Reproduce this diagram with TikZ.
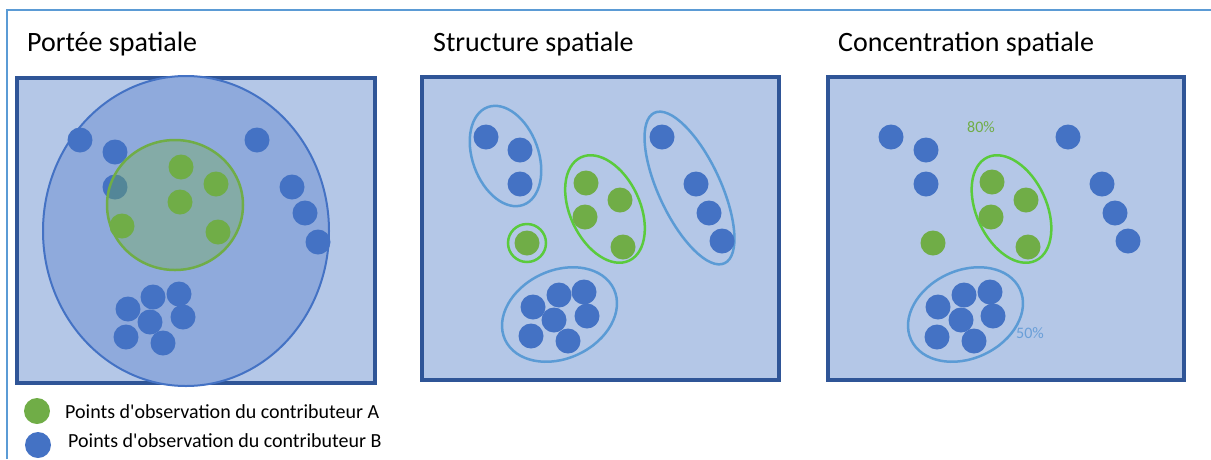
\documentclass[tikz,border=0pt]{standalone}
\usepackage{fontspec}
\setmainfont{Carlito}
\newfontfamily\legfont{Carlito}
\definecolor{panelfill}{HTML}{B4C7E7}
\definecolor{panelline}{HTML}{2F5597}
\definecolor{ptblue}{HTML}{4472C4}
\definecolor{ptgreen}{HTML}{70AD47}
\definecolor{ringgreen}{HTML}{5ACB3C}
\definecolor{ringblue}{HTML}{5B9BD5}
\definecolor{rangefill}{HTML}{8FAADC}
\definecolor{pctblue}{HTML}{6A9FD8}
\tikzset{
  panel/.style={fill=panelfill,draw=panelline,line width=3.5pt},
  bdot/.style={fill=ptblue},
  gdot/.style={fill=ptgreen},
  bring/.style={draw=ringblue,line width=2.5pt},
  gring/.style={draw=ringgreen,line width=2.5pt},
  title/.style={font=\fontsize{28}{32}\selectfont,anchor=base west,inner sep=0pt},
  legend/.style={font=\legfont\fontsize{20}{24}\selectfont,anchor=base west,inner sep=0pt},
  pct/.style={font=\fontsize{16}{18}\selectfont,inner sep=0pt}
}
\begin{document}
\begin{tikzpicture}[x=1pt,y=-1pt]
\useasboundingbox (0,0) rectangle (1211,459);
\def\r{12.5pt}
%frame
\draw[ringblue,line width=1.5pt] (7,459) -- (7,10) -- (1211,10);
%titles
\node[title] (porteeT) at (27,51) {Portée spatiale};
\node[title] (structT) at (433,51) {Structure spatiale};
\node[title] (concT) at (838,51) {Concentration spatiale};
%panels
\draw[panel] (17,78) rectangle (375,383);
\draw[panel] (422,77) rectangle (779,380);
\draw[panel] (828,77) rectangle (1184,380);
%portee
\draw[fill=rangefill,draw=ptblue,line width=2pt] (186,231) ellipse [x radius=143pt,y radius=155pt];
\foreach \x/\y in {80/140,115/152,115/187,257/140,292/187,305/213,318/242,
  128/309,153/297,179/294,150/322,183/317,126/337,163/343}
  \fill[bdot] (\x,\y) circle (\r);
\draw[draw=ptgreen,line width=2.5pt,fill=ptgreen,fill opacity=0.35] (175,205) ellipse [x radius=68pt,y radius=65pt];
\foreach \x/\y in {181/167,216/184,180/202,122/226,218/232}
  \fill[gdot] (\x,\y) circle (\r);
%structure
\draw[bring,rotate around={-70:(505.5,156)}] (505.5,156) ellipse [x radius=52pt,y radius=33pt];
\draw[bring,rotate around={-65:(689.5,188)}] (689.5,188) ellipse [x radius=83pt,y radius=31pt];
\draw[bring,rotate around={25:(559.5,314.5)}] (559.5,314.5) ellipse [x radius=60pt,y radius=44pt];
\draw[gring,rotate around={-65:(605,209)}] (605,209) ellipse [x radius=57pt,y radius=35pt];
\draw[gring] (527,243) circle (19pt);
\foreach \x/\y in {486/137,520/150,520/184,662/137,696/184,709/213,722/241,
  533/307,559/295,584/292,554/320,587/316,531/336,568/341}
  \fill[bdot] (\x,\y) circle (\r);
\foreach \x/\y in {586/183,620/200,585/217,623/247,527/243}
  \fill[gdot] (\x,\y) circle (\r);
%concentration
\draw[bring,rotate around={25:(965.5,314.5)}] (965.5,314.5) ellipse [x radius=60pt,y radius=44pt];
\draw[gring,rotate around={-65:(1011.5,209)}] (1011.5,209) ellipse [x radius=57pt,y radius=35pt];
\foreach \x/\y in {891/137,926/150,926/184,1068/137,1102/184,1115/213,1128/241,
  938/307,964/295,990/292,961/320,993/316,937/337,974/341}
  \fill[bdot] (\x,\y) circle (\r);
\foreach \x/\y in {992/182,1026/200,991/217,1028/247,933/243}
  \fill[gdot] (\x,\y) circle (\r);
\node[pct,text=ptgreen] (pctA) at (981,127) {80\%};
\node[pct,text=pctblue] (pctB) at (1030,333) {50\%};
%legend
\fill[gdot] (37,411) circle (13pt);
\fill[bdot] (38,445) circle (13pt);
\node[legend] (legA) at (65,418) {Points d'observation du contributeur A};
\node[legend] (legB) at (68,447) {Points d'observation du contributeur B};
\end{tikzpicture}
\end{document}
